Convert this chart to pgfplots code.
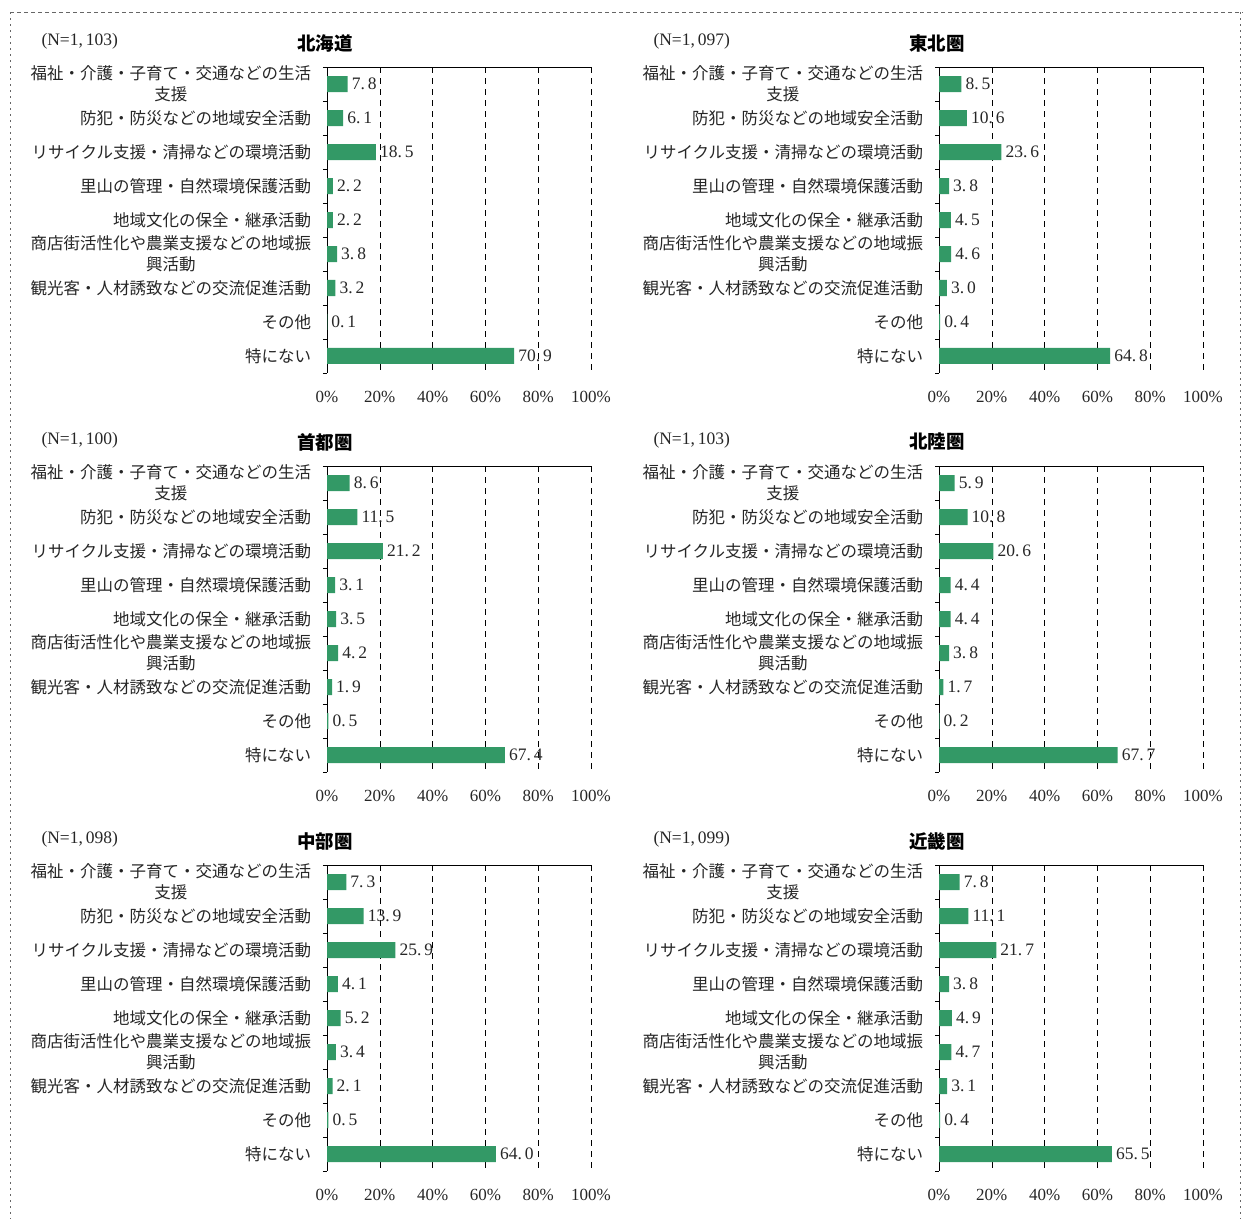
\documentclass[border=0pt]{standalone}
\usepackage{pgfplots}
\pgfplotsset{compat=1.18}
\usepackage{fontspec}
\setmainfont{Liberation Serif}
\newfontfamily\jp{Noto Sans CJK JP}
\definecolor{bargreen}{RGB}{51,153,102}
\pgfplotsset{
  panel/.style={
    xbar, scale only axis, width=264bp, height=306bp, anchor=north west,
    xmin=0, xmax=100, ymin=-0.5, ymax=8.5, y dir=reverse,
    axis y line*=left, axis x line*=bottom,
    x axis line style={draw=none},
    xtick={0,20,...,100}, xticklabels={0\%,20\%,40\%,60\%,80\%,100\%},
    xmajorgrids, grid style={black, dash pattern=on 6bp off 5bp, line width=0.6pt},
    major x tick style={draw=none},
    xticklabel style={font=\fontsize{17bp}{19bp}\selectfont, yshift=-15bp, text=black!85},
    ytick={0,...,8}, major y tick style={draw=none},
    minor ytick={-0.5,0.5,...,8.5}, minor y tick style={black, line width=0.6pt},
    minor tick length=4bp,
    y axis line style={line width=0.8pt},
    yticklabel style={font=\jp\fontsize{16.5bp}{21bp}\selectfont, align=center, xshift=-8bp, text=black!85},
    yticklabels={{福祉・介護・子育て・交通などの生活\\支援},{防犯・防災などの地域安全活動},{リサイクル支援・清掃などの環境活動},{里山の管理・自然環境保護活動},{地域文化の保全・継承活動},{商店街活性化や農業支援などの地域振\\興活動},{観光客・人材誘致などの交流促進活動},{その他},{特にない}},
    bar width=16bp,
    point meta=x,
    nodes near coords={\pgfmathprintnumber[fixed,fixed zerofill,precision=1,dec sep={.\,},assume math mode=true]{\pgfplotspointmeta}},
    every node near coord/.append style={font=\fontsize{17.5bp}{19bp}\selectfont, anchor=west, inner sep=4bp, text=black!85},
    /pgf/number format/assume math mode=true,
    clip=false,
  }
}
\newcommand\panel[5]{%
  \begin{axis}[panel, at={(#1bp,-#2bp)}]
    \addplot[fill=bargreen, draw=none] coordinates {#5};
    \draw[line width=0.8pt] (axis cs:0,-0.5) -- (axis cs:100,-0.5);
  \end{axis}
  \node[font=\jp\bfseries\fontsize{18.5bp}{20bp}\selectfont] at ({#1bp-2bp},{-#2bp+24bp}) {#3};
  \node[anchor=west, font=\fontsize{17.5bp}{20bp}\selectfont, text=black!85] at ({#1bp-289bp},{-#2bp+26bp}) {(N=#4)};
}
\begin{document}
\begin{tikzpicture}
\useasboundingbox (0,0) rectangle (1243bp,-1219bp);
\draw[black!60, line width=0.8pt, dash pattern=on 4bp off 3bp] (10bp,-12bp) -- (1243bp,-12bp);
\draw[black!60, line width=1pt, dash pattern=on 1.5bp off 4.5bp] (10bp,-12bp) -- (10bp,-1219bp);
\draw[black!60, line width=1pt, dash pattern=on 1.5bp off 4.5bp] (1240bp,-12bp) -- (1240bp,-1219bp);
\panel{327}{67}{北海道}{1,\,103}{(7.8,0) (6.1,1) (18.5,2) (2.2,3) (2.2,4) (3.8,5) (3.2,6) (0.1,7) (70.9,8)}
\panel{939}{67}{東北圏}{1,\,097}{(8.5,0) (10.6,1) (23.6,2) (3.8,3) (4.5,4) (4.6,5) (3.0,6) (0.4,7) (64.8,8)}
\panel{327}{466}{首都圏}{1,\,100}{(8.6,0) (11.5,1) (21.2,2) (3.1,3) (3.5,4) (4.2,5) (1.9,6) (0.5,7) (67.4,8)}
\panel{939}{466}{北陸圏}{1,\,103}{(5.9,0) (10.8,1) (20.6,2) (4.4,3) (4.4,4) (3.8,5) (1.7,6) (0.2,7) (67.7,8)}
\panel{327}{865}{中部圏}{1,\,098}{(7.3,0) (13.9,1) (25.9,2) (4.1,3) (5.2,4) (3.4,5) (2.1,6) (0.5,7) (64.0,8)}
\panel{939}{865}{近畿圏}{1,\,099}{(7.8,0) (11.1,1) (21.7,2) (3.8,3) (4.9,4) (4.7,5) (3.1,6) (0.4,7) (65.5,8)}
\end{tikzpicture}
\end{document}
